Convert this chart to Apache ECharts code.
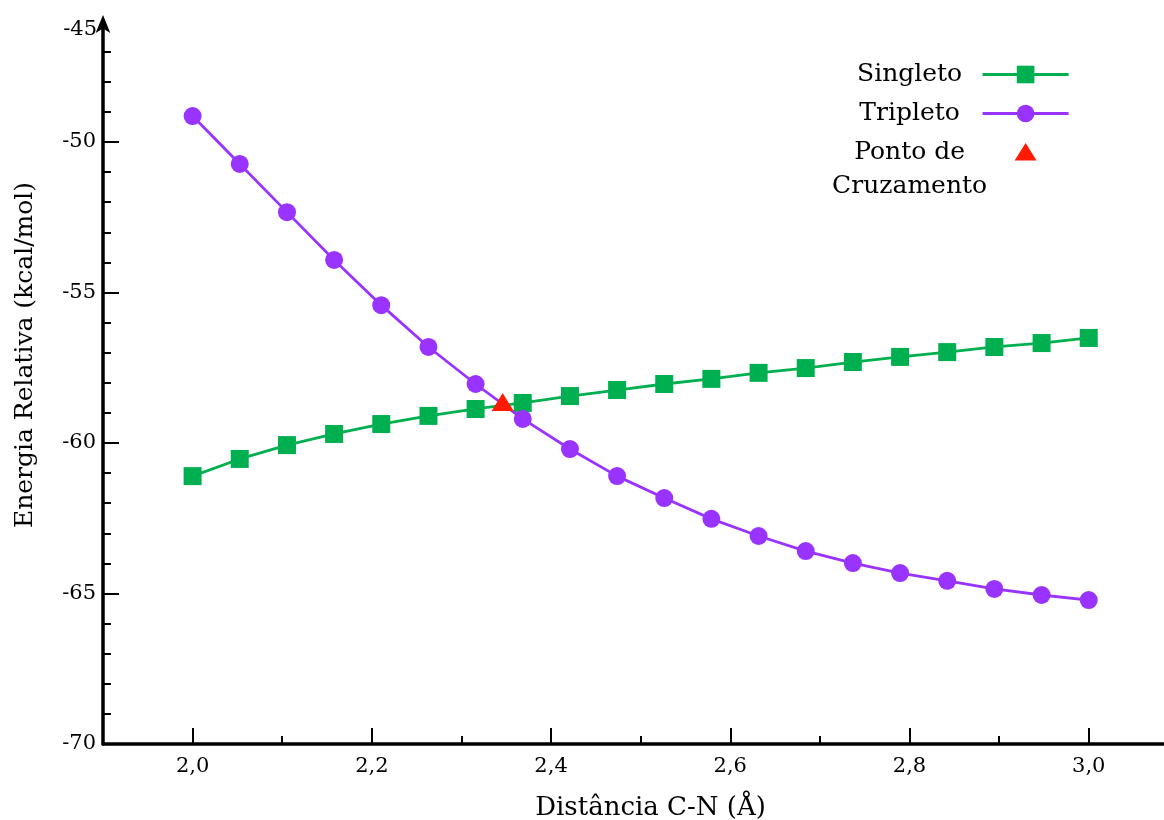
<!DOCTYPE html>
<html>
<head>
<meta charset="utf-8">
<script src="https://cdn.jsdelivr.net/npm/echarts@6/dist/echarts.min.js"></script>
<style>
  html, body { margin: 0; padding: 0; background: #fff; }
  #chart { width: 1164px; height: 820px; }
</style>
</head>
<body>
<div id="chart"></div>
<script>
// distância C-N (Å), 20 pontos de 2,0 a 3,0
const distances = [
  2.0, 2.0526, 2.1053, 2.1579, 2.2105, 2.2632, 2.3158, 2.3684, 2.4211, 2.4737,
  2.5263, 2.5789, 2.6316, 2.6842, 2.7368, 2.7895, 2.8421, 2.8947, 2.9474, 3.0,
]
const singleto = [
  -61.10, -60.53, -60.07, -59.70, -59.37, -59.10, -58.87, -58.67, -58.44, -58.24,
  -58.04, -57.87, -57.67, -57.51, -57.31, -57.14, -56.98, -56.81, -56.68, -56.51,
]
const tripleto = [
  -49.14, -50.73, -52.33, -53.92, -55.42, -56.81, -58.04, -59.20, -60.20, -61.10,
  -61.83, -62.52, -63.09, -63.59, -63.99, -64.32, -64.58, -64.85, -65.05, -65.22,
]
const cruzamento = [[2.346, -58.64]]

const xMajorTicks = [2.0, 2.2, 2.4, 2.6, 2.8, 3.0]
const xMinorTicks = [2.1, 2.3, 2.5, 2.7, 2.9]
const yMajorTicks = [-70, -65, -60, -55, -50]
const yMinorTicks = [-69, -68, -67, -66, -64, -63, -62, -61, -59, -58, -57, -56, -54, -53, -52, -51, -49, -48, -47]

const FONT = 'DejaVu Serif'
const lineCol = '#000'
const GREEN = '#00b050'
const PURPLE = '#9933ff'
const RED = '#ff1a00'

const xRange = { min: 1.9, max: 3.084 }
const yRange = { min: -70, max: -46.08 }

function toPairs(xs, ys) {
  return xs.map((x, i) => [x, ys[i]])
}

const chartDom = document.getElementById('chart')
const chart = echarts.init(chartDom, null, { renderer: 'canvas' })

const option = {
  animation: false,
  textStyle: { fontFamily: FONT },
  grid: { left: 103, right: 0, top: 24, bottom: 76, containLabel: false, outerBoundsMode: 'none' },
  legend: {
    orient: 'vertical',
    right: 89,
    top: 57,
    align: 'right',
    itemWidth: 86,
    itemHeight: 22,
    itemGap: 14,
    data: [
      { name: 'Singleto', lineStyle: { width: 2.8 } },
      { name: 'Tripleto', lineStyle: { width: 2.8 } },
      {
        name: 'Ponto de Cruzamento',
        icon: 'path://M0,0 M0,22 M0,19 L11,1.5 L22,19 Z',
        itemStyle: { color: RED, opacity: 1 },
        textStyle: { padding: [0, 0, -34, 0] },
      },
    ],
    formatter: (name) => {
      if (name === 'Ponto de Cruzamento')
        return '{t|Ponto de}\n{t|Cruzamento}'
      return `{t|${name}}`
    },
    textStyle: {
      fontFamily: FONT,
      fontSize: 25,
      color: '#000',
      rich: {
        t: { fontFamily: FONT, fontSize: 25, width: 136, align: 'center', lineHeight: 34, color: '#000' },
      },
    },
  },
  xAxis: [
    {
      type: 'value',
      min: xRange.min,
      max: xRange.max,
      name: 'Distância C-N (Å)',
      nameLocation: 'middle',
      nameGap: 51,
      nameTextStyle: { fontFamily: FONT, fontSize: 26, color: '#000', padding: [0, 0, 0, 34] },
      axisLine: { show: true, onZero: false, lineStyle: { color: lineCol, width: 3.5 } },
      axisTick: { show: true, inside: true, length: 16, lineStyle: { color: lineCol, width: 2 }, customValues: xMajorTicks },
      axisLabel: {
        show: true,
        customValues: xMajorTicks,
        margin: 12,
        fontFamily: FONT,
        fontSize: 21,
        color: '#000',
        formatter: v => v.toFixed(1).replace('.', ','),
      },
      splitLine: { show: false },
    },
    {
      // ticks menores
      type: 'value',
      position: 'bottom',
      min: xRange.min,
      max: xRange.max,
      axisLine: { show: false, onZero: false },
      axisTick: { show: true, inside: true, length: 8, lineStyle: { color: lineCol, width: 2 }, customValues: xMinorTicks },
      axisLabel: { show: false },
      splitLine: { show: false },
    },
  ],
  yAxis: [
    {
      type: 'value',
      min: yRange.min,
      max: yRange.max,
      name: 'Energia Relativa (kcal/mol)',
      nameLocation: 'middle',
      nameGap: 65,
      nameTextStyle: { fontFamily: FONT, fontSize: 25, color: '#000', padding: [0, 0, 0, 58] },
      axisLine: {
        show: true,
        onZero: false,
        symbol: ['none', 'arrow'],
        symbolSize: [11, 18],
        symbolOffset: [0, 9],
        lineStyle: { color: lineCol, width: 3.5 },
      },
      axisTick: { show: true, inside: true, length: 16, lineStyle: { color: lineCol, width: 2 }, customValues: yMajorTicks },
      axisLabel: {
        show: true,
        customValues: yMajorTicks,
        margin: 7,
        fontFamily: FONT,
        fontSize: 21,
        color: '#000',
      },
      splitLine: { show: false },
    },
    {
      type: 'value',
      position: 'left',
      min: yRange.min,
      max: yRange.max,
      axisLine: { show: false, onZero: false },
      axisTick: { show: true, inside: true, length: 8, lineStyle: { color: lineCol, width: 2 }, customValues: yMinorTicks },
      axisLabel: { show: false },
      splitLine: { show: false },
    },
  ],
  // rótulo do topo do eixo y
  graphic: [
    {
      type: 'text',
      x: 97,
      y: 30,
      style: {
        text: '-45',
        fontFamily: FONT,
        fontSize: 21,
        fill: '#000',
        align: 'right',
        verticalAlign: 'middle',
      },
    },
  ],
  series: [
    {
      name: 'Singleto',
      type: 'line',
      data: toPairs(distances, singleto),
      symbol: 'rect',
      symbolSize: 18,
      color: GREEN,
      lineStyle: { width: 2.8, color: GREEN },
      itemStyle: { color: GREEN },
      z: 2,
    },
    {
      name: 'Tripleto',
      type: 'line',
      data: toPairs(distances, tripleto),
      symbol: 'circle',
      symbolSize: 18,
      color: PURPLE,
      lineStyle: { width: 2.8, color: PURPLE },
      itemStyle: { color: PURPLE },
      z: 3,
    },
    {
      name: 'Ponto de Cruzamento',
      type: 'scatter',
      data: cruzamento,
      symbol: 'triangle',
      symbolSize: [22, 18],
      itemStyle: { color: RED, opacity: 1 },
      z: 4,
    },
  ],
}

chart.setOption(option)
window.addEventListener('resize', () => chart.resize())
</script>
</body>
</html>
